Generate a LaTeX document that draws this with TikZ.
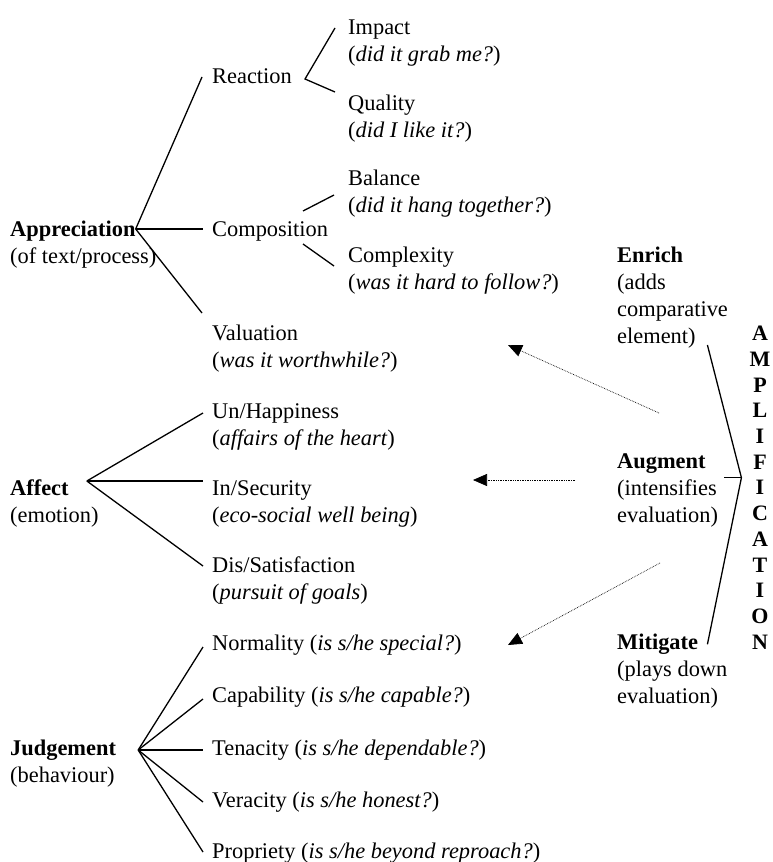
\documentclass[tikz,border=0pt]{standalone}
\usepackage{fontspec}
\setmainfont{Liberation Serif}
\usepackage{tikz}
\usetikzlibrary{arrows.meta,positioning}

\begin{document}
\begin{tikzpicture}[
    x=1pt, y=-1pt,
    font=\fontsize{22.4}{26.8}\selectfont,
    head/.style={inner sep=0pt, anchor=west, text height=15pt, text depth=0pt},
    gloss/.style={inner sep=0pt, anchor=north west, align=left},
    amp/.style={inner sep=0pt, anchor=north, align=center, font=\fontsize{22}{25.7}\selectfont\bfseries},
    ln/.style={line width=1.3pt},
    dotarr/.style={densely dotted, line width=0.7pt, -{Triangle[length=14pt,width=12pt]}}
]
\useasboundingbox (0,0) rectangle (773,862);
\node[head] (appr) at (10,229) {\textbf{Appreciation}};
\node[gloss, below=11pt of appr.south west, anchor=north west] (apprG) {(of text/process)};
\node[head] (reac) at (212,76) {Reaction};
\node[head] (comp) at (212,229) {Composition};
\node[head] (val) at (212,333) {Valuation};
\node[gloss, below=11pt of val.south west, anchor=north west] (valG) {(\textit{was it worthwhile?})};
\node[head] (imp) at (348,27) {Impact};
\node[gloss, below=11pt of imp.south west, anchor=north west] (impG) {(\textit{did it grab me?})};
\node[head] (qual) at (348,103) {Quality};
\node[gloss, below=11pt of qual.south west, anchor=north west] (qualG) {(\textit{did I like it?})};
\node[head] (bal) at (348,178) {Balance};
\node[gloss, below=11pt of bal.south west, anchor=north west] (balG) {(\textit{did it hang together?})};
\node[head] (cpx) at (348,255) {Complexity};
\node[gloss, below=11pt of cpx.south west, anchor=north west] (cpxG) {(\textit{was it hard to follow?})};
\node[head] (aff) at (10,488) {\textbf{Affect}};
\node[gloss, below=11pt of aff.south west, anchor=north west] (affG) {(emotion)};
\node[head] (hap) at (212,411) {Un/Happiness};
\node[gloss, below=11pt of hap.south west, anchor=north west] (hapG) {(\textit{affairs of the heart})};
\node[head] (sec) at (212,488) {In/Security};
\node[gloss, below=11pt of sec.south west, anchor=north west] (secG) {(\textit{eco-social well being})};
\node[head] (sat) at (212,565) {Dis/Satisfaction};
\node[gloss, below=11pt of sat.south west, anchor=north west] (satG) {(\textit{pursuit of goals})};
\node[head] (jud) at (10,748) {\textbf{Judgement}};
\node[gloss, below=11pt of jud.south west, anchor=north west] (judG) {(behaviour)};
\node[head] (norm) at (212,643) {Normality (\textit{is s/he special?})};
\node[head] (cap) at (212,695) {Capability (\textit{is s/he capable?})};
\node[head] (ten) at (212,748) {Tenacity (\textit{is s/he dependable?})};
\node[head] (ver) at (212,800) {Veracity (\textit{is s/he honest?})};
\node[head] (prop) at (212,851) {Propriety (\textit{is s/he beyond reproach?})};
\node[head] (enr) at (617,255) {\textbf{Enrich}};
\node[gloss, below=11pt of enr.south west, anchor=north west] (enrG) {(adds\\comparative\\element)};
\node[head] (aug) at (617,461) {\textbf{Augment}};
\node[gloss, below=11pt of aug.south west, anchor=north west] (augG) {(intensifies\\evaluation)};
\node[head] (mit) at (617,642) {\textbf{Mitigate}};
\node[gloss, below=11pt of mit.south west, anchor=north west] (mitG) {(plays down\\evaluation)};
\node[amp] (ampl) at (760,326) {A\\M\\P\\L\\I\\F\\I\\C\\A\\T\\I\\O\\N};
\coordinate (tipV) at (508,345);
\coordinate (tipA) at (473,480);
\coordinate (tipJ) at (508,645);
\draw[ln] (appr.east) -- ([xshift=-10pt,yshift=-1pt]reac.west);
\draw[ln] (appr.east) -- ([xshift=-9pt]comp.west);
\draw[ln] (appr.east) -- ([xshift=-10pt,yshift=20pt]val.west);
\draw[ln] ([xshift=-13pt,yshift=-1pt]imp.west) -- ([xshift=13pt,yshift=-3pt]reac.east) -- ([xshift=-13pt,yshift=11pt]qual.west);
\draw[ln] ([xshift=91pt,yshift=18pt]comp.west) -- ([xshift=-14pt,yshift=-17pt]bal.west);
\draw[ln] ([xshift=91pt,yshift=-15pt]comp.west) -- ([xshift=-14pt,yshift=-11pt]cpx.west);
\draw[ln] ([xshift=18pt,yshift=7pt]aff.east) -- ([xshift=-9pt,yshift=-2pt]hap.west);
\draw[ln] ([xshift=18pt,yshift=7pt]aff.east) -- ([xshift=-9pt,yshift=7pt]sec.west);
\draw[ln] ([xshift=18pt,yshift=7pt]aff.east) -- ([xshift=-9pt,yshift=-1pt]sat.west);
\draw[ln] ([xshift=22pt,yshift=-2pt]jud.east) -- ([xshift=-9pt,yshift=-4pt]norm.west);
\draw[ln] ([xshift=22pt,yshift=-2pt]jud.east) -- ([xshift=-9pt,yshift=-4pt]cap.west);
\draw[ln] ([xshift=22pt,yshift=-2pt]jud.east) -- ([xshift=-9pt,yshift=-2pt]ten.west);
\draw[ln] ([xshift=22pt,yshift=-2pt]jud.east) -- ([xshift=-9pt,yshift=-2pt]ver.west);
\draw[ln] ([xshift=22pt,yshift=-2pt]jud.east) -- ([xshift=-9pt,yshift=-1pt]prop.west);
\draw[ln] ([xshift=-42pt,yshift=-19pt]ampl.north west) -- ([xshift=-8pt,yshift=10pt]ampl.west) -- ([xshift=-42pt,yshift=5pt]ampl.south west);
\draw[ln] ([xshift=-25pt,yshift=10pt]ampl.west) -- ([xshift=-8pt,yshift=10pt]ampl.west);
\draw[dotarr] ([xshift=42pt,yshift=48pt]aug.west) -- (tipV);
\draw[dotarr] ([xshift=-42pt,yshift=-19pt]aug.west) -- (tipA);
\draw[dotarr] ([xshift=43pt,yshift=-102pt]aug.west) -- (tipJ);
\end{tikzpicture}
\end{document}
